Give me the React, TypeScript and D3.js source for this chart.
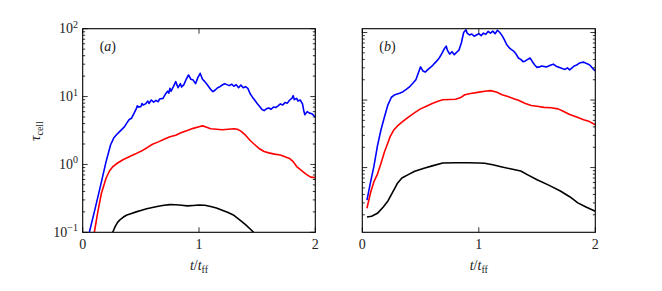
import React from 'react';
import * as d3 from 'd3';

// tau_cell vs t/t_ff: [t, tau]
const blueA: [number, number][] = [
  [0.057, 0.1], [0.1, 0.2], [0.15, 0.46], [0.2, 1.08], [0.24, 1.95], [0.27, 2.5], [0.3, 2.85],
  [0.33, 3.2], [0.36, 3.6], [0.38, 4.1], [0.4, 4.6], [0.42, 4.8], [0.44, 5.6], [0.46, 6.6],
  [0.47, 7.3], [0.48, 7.0], [0.5, 7.1], [0.51, 7.9], [0.52, 7.5], [0.54, 7.8], [0.56, 8.6], [0.57, 7.9],
  [0.59, 8.9], [0.61, 8.3], [0.63, 8.8], [0.65, 8.4], [0.66, 9.2], [0.69, 9.4], [0.71, 10.8], [0.73, 12.0],
  [0.74, 11.2], [0.75, 13.2], [0.76, 12.0], [0.78, 14.0], [0.8, 16.6], [0.82, 13.5], [0.84, 15.5],
  [0.85, 13.8], [0.87, 15.0], [0.89, 18.0], [0.91, 20.8], [0.93, 18.0], [0.95, 17.5], [0.97, 15.5],
  [0.99, 19.0], [1.01, 22.0], [1.03, 18.0], [1.05, 16.6], [1.07, 15.0], [1.09, 13.5], [1.11, 12.2],
  [1.12, 11.8], [1.14, 12.5], [1.16, 13.5], [1.18, 14.0], [1.2, 14.8], [1.22, 15.5], [1.24, 15.0],
  [1.26, 14.5], [1.28, 15.2], [1.3, 14.2], [1.32, 15.0], [1.34, 13.5], [1.36, 14.8], [1.38, 13.5],
  [1.4, 14.0], [1.42, 13.2], [1.44, 11.0], [1.46, 9.8], [1.48, 8.8], [1.5, 7.9], [1.52, 7.2],
  [1.54, 6.5], [1.56, 6.2], [1.58, 6.6], [1.6, 6.8], [1.62, 6.5], [1.64, 7.0], [1.66, 6.9],
  [1.68, 7.3], [1.7, 7.8], [1.72, 7.5], [1.74, 8.2], [1.76, 8.0], [1.78, 8.9], [1.8, 9.5],
  [1.81, 10.3], [1.82, 9.0], [1.84, 9.4], [1.85, 8.6], [1.87, 8.9], [1.89, 7.8], [1.9, 6.3],
  [1.91, 5.4], [1.93, 6.0], [1.95, 5.7], [1.97, 5.6], [1.99, 5.2], [2.0, 5.0],
];
const redA: [number, number][] = [
  [0.1, 0.1], [0.13, 0.2], [0.16, 0.37], [0.2, 0.62], [0.23, 0.8], [0.26, 0.93], [0.3, 1.05],
  [0.35, 1.18], [0.4, 1.3], [0.45, 1.42], [0.5, 1.56], [0.55, 1.75], [0.6, 1.98], [0.65, 2.15],
  [0.7, 2.35], [0.75, 2.55], [0.8, 2.7], [0.85, 2.95], [0.9, 3.15], [0.95, 3.4], [1.0, 3.6],
  [1.03, 3.7], [1.06, 3.55], [1.1, 3.35], [1.15, 3.3], [1.2, 3.25], [1.25, 3.3], [1.3, 3.35],
  [1.33, 3.3], [1.36, 3.1], [1.4, 2.7], [1.44, 2.25], [1.48, 1.95], [1.52, 1.7], [1.56, 1.55],
  [1.6, 1.48], [1.65, 1.42], [1.7, 1.38], [1.75, 1.28], [1.78, 1.22], [1.81, 1.1], [1.84, 0.93],
  [1.88, 0.82], [1.92, 0.72], [1.96, 0.65], [2.0, 0.64],
];
const blackA: [number, number][] = [
  [0.258, 0.1], [0.28, 0.122], [0.3, 0.14], [0.32, 0.153], [0.35, 0.168], [0.38, 0.18], [0.42, 0.19],
  [0.46, 0.2], [0.5, 0.21], [0.55, 0.222], [0.6, 0.232], [0.65, 0.242], [0.7, 0.25], [0.75, 0.256],
  [0.8, 0.255], [0.85, 0.25], [0.9, 0.245], [0.95, 0.248], [1.0, 0.252], [1.05, 0.25], [1.1, 0.24],
  [1.15, 0.228], [1.2, 0.212], [1.25, 0.196], [1.3, 0.178], [1.35, 0.153], [1.4, 0.13], [1.44, 0.112],
  [1.47, 0.1],
];

const blueB: [number, number][] = [
  [0.04, 0.33], [0.07, 0.6], [0.1, 1.05], [0.13, 2.1], [0.16, 3.6], [0.19, 5.6], [0.22, 8.5],
  [0.25, 11.0], [0.28, 12.0], [0.32, 12.6], [0.35, 13.3], [0.38, 14.5], [0.41, 16.0], [0.43, 17.4],
  [0.46, 20], [0.48, 25], [0.5, 31], [0.52, 27], [0.54, 26], [0.56, 28], [0.58, 30], [0.6, 32],
  [0.62, 35], [0.64, 38], [0.66, 42], [0.68, 48], [0.7, 56], [0.72, 63], [0.73, 55], [0.75, 48],
  [0.77, 52], [0.79, 47], [0.81, 51], [0.83, 55], [0.85, 70], [0.87, 100], [0.89, 110], [0.9, 98],
  [0.92, 92], [0.94, 95], [0.96, 88], [0.98, 92], [1.0, 96], [1.02, 90], [1.04, 98], [1.06, 94],
  [1.08, 104], [1.1, 98], [1.12, 105], [1.14, 96], [1.16, 108], [1.18, 100], [1.2, 90], [1.22, 78],
  [1.24, 66], [1.26, 60], [1.28, 56], [1.3, 53], [1.32, 48], [1.34, 42], [1.36, 40], [1.38, 37],
  [1.4, 38], [1.42, 40], [1.44, 42], [1.46, 37], [1.48, 33], [1.5, 30.5], [1.52, 31], [1.54, 32],
  [1.56, 31.5], [1.58, 31], [1.6, 32], [1.62, 33], [1.64, 34], [1.66, 32], [1.68, 31], [1.7, 30],
  [1.72, 29], [1.74, 28.5], [1.76, 30], [1.78, 28], [1.8, 30], [1.82, 32], [1.84, 33], [1.86, 35],
  [1.88, 36], [1.9, 36.5], [1.92, 35], [1.94, 34], [1.96, 32], [1.98, 29], [2.0, 27],
];
const redB: [number, number][] = [
  [0.04, 0.25], [0.07, 0.42], [0.1, 0.62], [0.13, 0.8], [0.16, 1.15], [0.19, 1.7], [0.21, 2.1],
  [0.24, 2.9], [0.27, 3.6], [0.3, 4.1], [0.34, 4.7], [0.39, 5.5], [0.45, 6.5], [0.5, 7.4],
  [0.55, 8.1], [0.6, 8.9], [0.65, 9.6], [0.69, 10.1], [0.75, 10.2], [0.8, 10.3], [0.84, 10.8],
  [0.88, 12.0], [0.93, 12.5], [0.99, 13.0], [1.05, 13.5], [1.1, 13.8], [1.15, 13.2], [1.2, 12.0],
  [1.25, 11.3], [1.3, 10.5], [1.34, 9.9], [1.4, 8.9], [1.45, 8.3], [1.5, 8.1], [1.56, 7.8],
  [1.62, 7.7], [1.68, 7.4], [1.72, 6.9], [1.78, 6.1], [1.84, 5.6], [1.9, 5.1], [1.95, 4.8],
  [2.0, 4.3],
];
const blackB: [number, number][] = [
  [0.04, 0.185], [0.08, 0.19], [0.13, 0.21], [0.18, 0.26], [0.22, 0.32], [0.26, 0.43], [0.3, 0.58],
  [0.34, 0.7], [0.39, 0.78], [0.45, 0.88], [0.53, 0.98], [0.6, 1.06], [0.69, 1.17], [0.8, 1.18],
  [0.9, 1.18], [1.0, 1.17], [1.05, 1.16], [1.12, 1.1], [1.19, 1.03], [1.27, 0.96], [1.36, 0.89],
  [1.42, 0.78], [1.5, 0.66], [1.6, 0.55], [1.7, 0.45], [1.78, 0.37], [1.85, 0.3], [1.92, 0.26],
  [2.0, 0.225],
];

const xTicks = [0, 1, 2];
const yTickExp = ['2', '1', '0', '\u22121'];
const colors = ['#0000ff', '#ff0000', '#000000'];

const W = 662, H = 291;
const top = 28.7, bottom = 232.3;
const font = "'Liberation Serif', serif";

const panels = [
  { label: 'a', x0: 82.7, x1: 315.3, yDomain: [0.1, 100], series: [blueA, redA, blackA], yLabels: true },
  { label: 'b', x0: 362.3, x1: 595.3, yDomain: [0.11, 114], series: [blueB, redB, blackB], yLabels: false },
];

function Panel({ p }: { p: typeof panels[number] }) {
  const x = d3.scaleLinear().domain([0, 2]).range([p.x0, p.x1]);
  const y = d3.scaleLog().domain(p.yDomain).range([bottom, top]);
  const line = d3.line<[number, number]>().x(d => x(d[0])).y(d => y(d[1]));
  const ticks = y.ticks().filter(v => v >= p.yDomain[0] && v <= p.yDomain[1]);
  const isMajor = (v: number) => Math.abs(Math.log10(v) - Math.round(Math.log10(v))) < 1e-6;
  const clipId = 'clip-' + p.label;
  return (
    <g>
      <clipPath id={clipId}>
        <rect x={p.x0} y={top} width={p.x1 - p.x0} height={bottom - top} />
      </clipPath>
      <g clipPath={`url(#${clipId})`}>
        {p.series.map((s, i) => (
          <path key={i} d={line(s) || ''} fill="none" stroke={colors[i]} strokeWidth={1.6} strokeLinejoin="round" />
        ))}
      </g>
      {ticks.map((v, i) => {
        const len = isMajor(v) ? 5 : 2.5;
        const yy = y(v);
        return (
          <g key={i} stroke="#000" strokeWidth={0.8}>
            <line x1={p.x0} x2={p.x0 + len} y1={yy} y2={yy} />
            <line x1={p.x1} x2={p.x1 - len} y1={yy} y2={yy} />
          </g>
        );
      })}
      {xTicks.map(t => (
        <g key={t} stroke="#000" strokeWidth={0.8}>
          <line x1={x(t)} x2={x(t)} y1={bottom} y2={bottom - 5} />
          <line x1={x(t)} x2={x(t)} y1={top} y2={top + 5} />
        </g>
      ))}
      <rect x={p.x0} y={top} width={p.x1 - p.x0} height={bottom - top} fill="none" stroke="#000" strokeWidth={1.1} />
      {xTicks.map(t => (
        <text key={t} x={x(t)} y={bottom + 16.5} textAnchor="middle" fontFamily={font} fontSize={14} fill="#222">{t}</text>
      ))}
      <text x={(p.x0 + p.x1) / 2} y={270} textAnchor="middle" fontFamily={font} fontSize={14} fill="#222">
        <tspan fontStyle="italic">t</tspan>/<tspan fontStyle="italic">t</tspan>
        <tspan fontSize={10} dy={3}>ff</tspan>
      </text>
      {p.yLabels && yTickExp.map((e, i) => (
        <text key={e} x={78} y={y(Math.pow(10, 2 - i)) + 4.5} textAnchor="end" fontFamily={font} fontSize={14} fill="#222">
          10<tspan fontSize={10} dy={-5.5}>{e}</tspan>
        </text>
      ))}
      <text x={p.x0 + 17} y={51} fontFamily={font} fontSize={14} fill="#222">
        (<tspan fontStyle="italic">{p.label}</tspan>)
      </text>
    </g>
  );
}

export default function App() {
  return (
    <svg width={W} height={H} style={{ position: 'absolute', left: 0, top: 0, background: '#fff' }}>
      {panels.map(p => <Panel key={p.label} p={p} />)}
      <text transform="translate(40,131) rotate(-90)" textAnchor="middle" fontFamily={font} fontSize={15} fill="#222">
        <tspan fontStyle="italic">τ</tspan>
        <tspan fontSize={10} dy={3}>cell</tspan>
      </text>
    </svg>
  );
}
